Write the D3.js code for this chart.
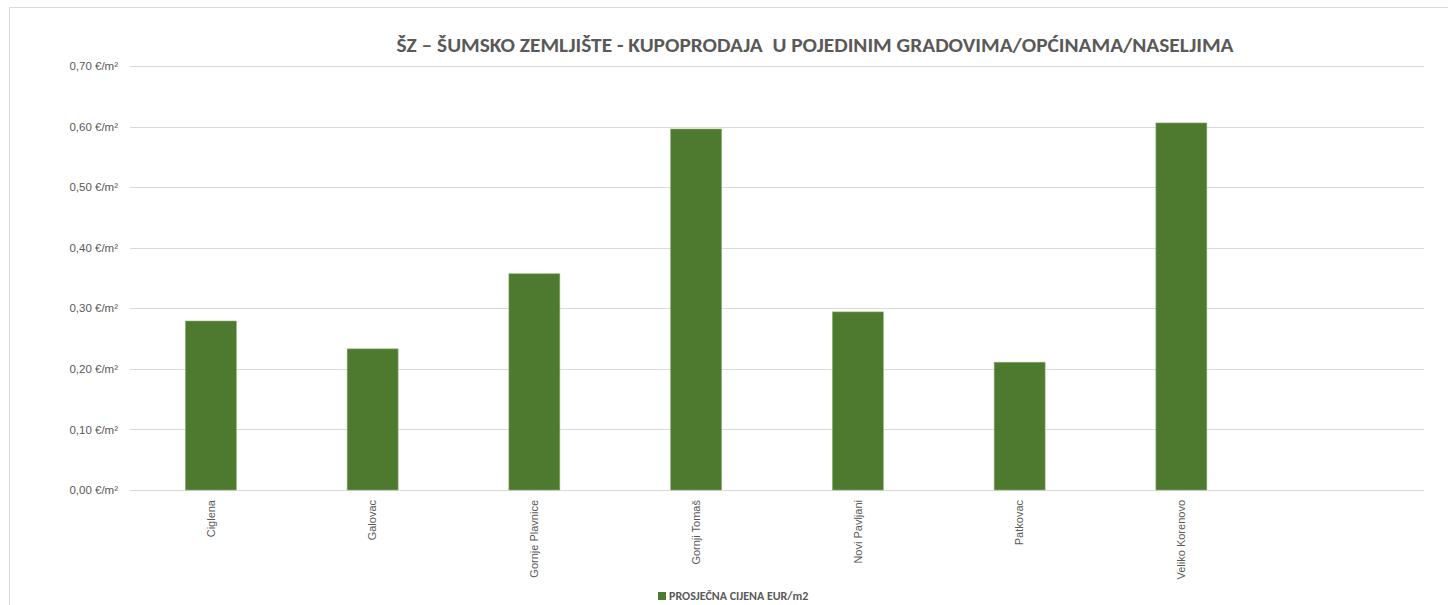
<!DOCTYPE html>
<html>
<head>
<meta charset="utf-8">
<script src="https://cdn.jsdelivr.net/npm/d3@7"></script>
<style>
  body { margin: 0; background: #fff; }
  svg { font-family: Calibri, Carlito, "Open Sans", sans-serif; }
</style>
</head>
<body>
<script>
const title = "ŠZ – ŠUMSKO ZEMLJIŠTE - KUPOPRODAJA  U POJEDINIM GRADOVIMA/OPĆINAMA/NASELJIMA";
const seriesName = "PROSJEČNA CIJENA EUR/m2";
// last slot is an empty category in the source chart
const categories = ["Ciglena", "Galovac", "Gornje Plavnice", "Gornji Tomaš", "Novi Pavljani", "Patkovac", "Veliko Korenovo", ""];
const values = [0.279, 0.233, 0.357, 0.596, 0.294, 0.211, 0.606, null];
const yTicks = [0, 0.1, 0.2, 0.3, 0.4, 0.5, 0.6, 0.7];

const width = 1448, height = 605;
const margin = { top: 66, right: 24, bottom: 115, left: 130 };
const green = "#4e7a2f";
const textGray = "#595959";

const svg = d3.select("body")
  .append("svg")
  .attr("width", width)
  .attr("height", height);

// chart frame (only top and left edges are visible in the crop)
svg.append("path")
  .attr("d", `M9.5,${height} V7.5 H${width}`)
  .attr("fill", "none")
  .attr("stroke", "#d9d9d9")
  .attr("stroke-width", 1);

const x = d3.scaleBand()
  .domain(categories)
  .range([margin.left, width - margin.right])
  .paddingInner(0.685)
  .paddingOuter(0.3425);

const y = d3.scaleLinear()
  .domain([0, 0.7])
  .range([height - margin.bottom, margin.top]);

const fmt = v => d3.format(".2f")(v).replace(".", ",") + " €/m²";

// gridlines
svg.append("g")
  .selectAll("line")
  .data(yTicks)
  .join("line")
  .attr("x1", margin.left)
  .attr("x2", width - margin.right)
  .attr("y1", d => Math.round(y(d)) + 0.5)
  .attr("y2", d => Math.round(y(d)) + 0.5)
  .attr("stroke", "#d9d9d9")
  .attr("stroke-width", 1);

// y axis labels
const yAxis = svg.append("g")
  .attr("transform", `translate(${margin.left},0)`)
  .call(d3.axisLeft(y).tickValues(yTicks).tickFormat(fmt).tickSize(0).tickPadding(12));
yAxis.select(".domain").remove();
yAxis.selectAll("text")
  .attr("fill", textGray)
  .style("font-size", "11.5px");

// bars
svg.append("g")
  .selectAll("rect")
  .data(categories.map((c, i) => ({ c, v: values[i] })).filter(d => d.v != null))
  .join("rect")
  .attr("x", d => x(d.c))
  .attr("width", x.bandwidth())
  .attr("y", d => y(d.v))
  .attr("height", d => y(0) - y(d.v))
  .attr("fill", green)
  .attr("stroke", "#8fb078")
  .attr("stroke-width", 0.6);

// x axis labels (rotated)
const xAxis = svg.append("g")
  .attr("transform", `translate(0,${y(0)})`)
  .call(d3.axisBottom(x).tickSize(0).tickPadding(0));
xAxis.select(".domain").remove();
xAxis.selectAll("text")
  .attr("fill", textGray)
  .style("font-size", "11px")
  .attr("text-anchor", "end")
  .attr("dy", "0.35em")
  .attr("transform", "translate(0,10) rotate(-90)")
  .attr("x", 0)
  .attr("y", 0);

// title
svg.append("text")
  .attr("x", 815)
  .attr("y", 52)
  .attr("text-anchor", "middle")
  .attr("fill", textGray)
  .style("font-size", "20px")
  .style("font-weight", "bold")
  .style("white-space", "pre")
  .attr("textLength", 837)
  .attr("lengthAdjust", "spacingAndGlyphs")
  .text(title);

// legend
const legend = svg.append("g").attr("transform", "translate(658,592)");
legend.append("rect")
  .attr("width", 8)
  .attr("height", 8)
  .attr("fill", green);
legend.append("text")
  .attr("x", 11)
  .attr("y", 8)
  .attr("fill", textGray)
  .style("font-size", "12px")
  .style("font-weight", "bold")
  .text(seriesName);
</script>
</body>
</html>
